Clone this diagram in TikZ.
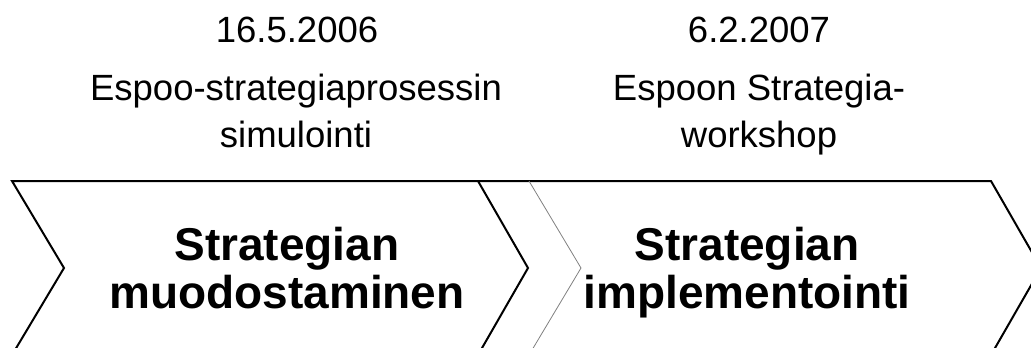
\documentclass[tikz,border=0pt]{standalone}
\usepackage{fontspec}
\setmainfont{Liberation Sans}
\begin{document}
\begin{tikzpicture}[x=1pt,y=-1pt,
  datelabel/.style={font=\fontsize{36.5}{47}\selectfont, inner sep=0pt, anchor=base},
  eventlabel/.style={font=\fontsize{36.5}{47}\selectfont, inner sep=0pt, anchor=base, align=center},
  phaselabel/.style={font=\bfseries\fontsize{46}{48}\selectfont, inner sep=0pt, anchor=base, align=center},
  outline/.style={draw=black, line width=2pt, line join=miter},
  divider/.style={draw=gray, line width=0.8pt}]
  \useasboundingbox (0,0) rectangle (1031,348);
  \begin{scope}
    \clip (0,0) rectangle (1031,348);
    % first phase chevron
    \draw[outline] (12,181) -- (478,181) -- (528,268) -- (478,355) -- (12,355) -- (64,268) -- cycle;
    % second phase chevron: top and right edges in black, left notch in grey
    \draw[outline] (478,181) -- (991,181) -- (1041,268) -- (991,355) -- (529,355);
    \draw[divider] (529,181) -- (581,268) -- (529,355);
  \end{scope}
  % dates and events above the chevrons (base = last line)
  \node[datelabel] (date1) at (297,42) {16.5.2006};
  \node[eventlabel] (event1) at (296,147) {Espoo-strategiaprosessin\\simulointi};
  \node[datelabel] (date2) at (759,42) {6.2.2007};
  \node[eventlabel] (event2) at (759,147) {Espoon Strategia-\\workshop};
  % phase names
  \node[phaselabel] (phase1) at (287,308) {Strategian\\muodostaminen};
  \node[phaselabel] (phase2) at (747,308) {Strategian\\implementointi};
\end{tikzpicture}
\end{document}
